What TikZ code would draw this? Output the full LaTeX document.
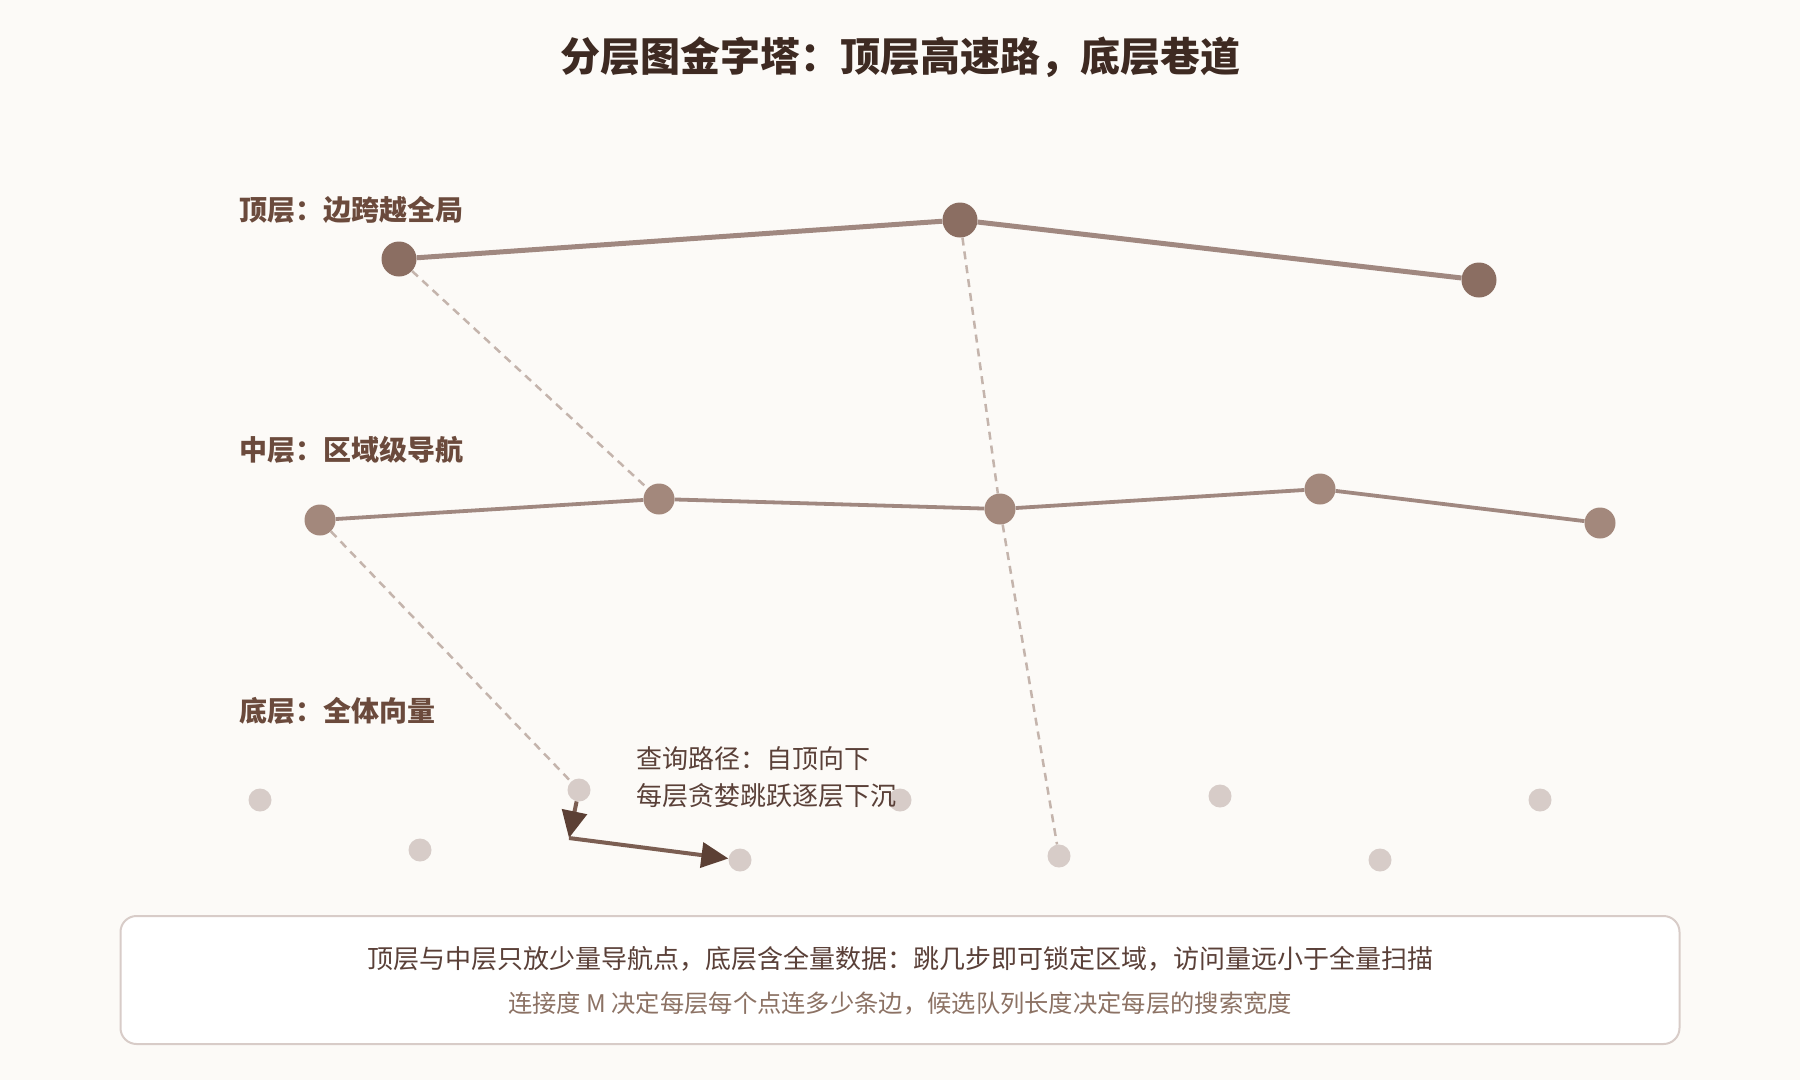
\documentclass[tikz,border=0pt]{standalone}
\usepackage{fontspec}
\setmainfont{Noto Sans CJK SC}
\usepackage{xcolor}
\usepackage{tikz}
\usetikzlibrary{arrows.meta}

\definecolor{bgpaper}{HTML}{FCFAF7}
\definecolor{titlebrown}{HTML}{3E2A22}
\definecolor{labelbrown}{HTML}{6B4A3C}
\definecolor{topfill}{HTML}{8B6E62}
\definecolor{midfill}{HTML}{A3887C}
\definecolor{lowfill}{HTML}{D7CCC8}
\definecolor{edgebrown}{HTML}{A08880}
\definecolor{dashbrown}{HTML}{C4B4AC}
\definecolor{pathbrown}{HTML}{7B5E52}
\definecolor{tipbrown}{HTML}{5C4035}
\definecolor{noteone}{HTML}{5A4038}
\definecolor{notetwo}{HTML}{8C7264}
\definecolor{boxline}{HTML}{D8CCC8}

\begin{document}
\begin{tikzpicture}[x=1pt,y=-1pt,
    topdot/.style={shape=circle,fill=topfill,minimum size=35pt,inner sep=0pt},
    middot/.style={shape=circle,fill=midfill,minimum size=31pt,inner sep=0pt},
    lowdot/.style={shape=circle,fill=lowfill,minimum size=23pt,inner sep=0pt},
    layername/.style={anchor=west,text=labelbrown,font=\bfseries\fontsize{28pt}{32pt}\selectfont},
    topedge/.style={draw=edgebrown,line width=5pt},
    midedge/.style={draw=edgebrown,line width=3.8pt},
    dropline/.style={draw=dashbrown,line width=2.5pt,dash pattern=on 8pt off 6pt},
    querypath/.style={draw=pathbrown,line width=4pt,-{Triangle[length=27pt,width=25pt,color=tipbrown]}}]
    \fill [bgpaper] (0,0) rectangle (1800,1080);
    \useasboundingbox (0,0) rectangle (1800,1080);
    \path (900,57) node [text=titlebrown,font=\bfseries\fontsize{40pt}{46pt}\selectfont] (title) {分层图金字塔：顶层高速路，底层巷道};
    % layer names
    \path (236,210) node [layername] (toplabel) {顶层：边跨越全局}
          (236,450) node [layername] (midlabel) {中层：区域级导航}
          (236,711) node [layername] (lowlabel) {底层：全体向量};
    % top layer
    \path (399,259) node [topdot] (t1) {}
          (960,220) node [topdot] (t2) {}
          (1479,280) node [topdot] (t3) {};
    % middle layer
    \path (320,520) node [middot] (m1) {}
          (659,499) node [middot] (m2) {}
          (1000,509) node [middot] (m3) {}
          (1320,489) node [middot] (m4) {}
          (1600,523) node [middot] (m5) {};
    % bottom layer
    \path (260,800) node [lowdot] (b1) {}
          (420,850) node [lowdot] (b2) {}
          (579,790) node [lowdot] (b3) {}
          (740,860) node [lowdot] (b4) {}
          (900,800) node [lowdot] (b5) {}
          (1059,856) node [lowdot] (b6) {}
          (1220,796) node [lowdot] (b7) {}
          (1380,860) node [lowdot] (b8) {}
          (1540,800) node [lowdot] (b9) {};
    \draw [topedge] (t1) -- (t2) -- (t3);
    \draw [midedge] (m1) -- (m2) -- (m3) -- (m4) -- (m5);
    \draw [dropline] (t1) -- (m2);
    \draw [dropline] (t2) -- (m3);
    \draw [dropline] (m1) -- (b3);
    \draw [dropline] (m3) -- (b6);
    % query path
    \coordinate (turn) at (569,838);
    \draw [querypath] (b3) -- (turn);
    \draw [querypath] (turn) -- (b4);
    \path (633,759) node [anchor=west,text=noteone,font=\fontsize{26pt}{30pt}\selectfont] (noteA) {查询路径：自顶向下}
          (633,796) node [anchor=west,text=noteone,font=\fontsize{26pt}{30pt}\selectfont] (noteB) {每层贪婪跳跃逐层下沉};
    % summary box
    \path (900,980) node [draw=boxline,fill=white,line width=2pt,rounded corners=16pt,minimum width=1559pt,minimum height=128pt] (summary) {};
    \path (900,959) node [text=noteone,font=\fontsize{26pt}{30pt}\selectfont] (sumA) {顶层与中层只放少量导航点，底层含全量数据：跳几步即可锁定区域，访问量远小于全量扫描}
          (900,1003) node [text=notetwo,font=\fontsize{24.3pt}{29pt}\selectfont] (sumB) {连接度 M 决定每层每个点连多少条边，候选队列长度决定每层的搜索宽度};
\end{tikzpicture}
\end{document}
